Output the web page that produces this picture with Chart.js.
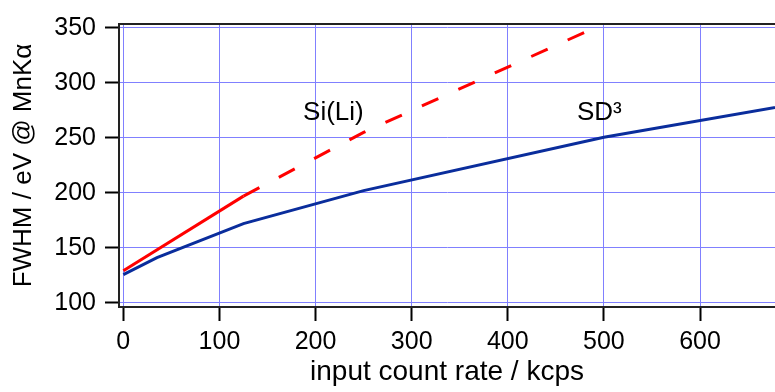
<!DOCTYPE html>
<html lang="en">
  <head>
    <meta charset="UTF-8" />
    <title>FWHM vs input count rate</title>
    <script src="https://cdn.jsdelivr.net/npm/chart.js@4"></script>
    <style>
      body {
        margin: 0;
        background: white;
      }
      .chart-container {
        width: 775px;
        height: 392px;
      }
    </style>
  </head>
  <body>
    <div class="chart-container">
      <canvas id="fwhmChart" width="775" height="392"></canvas>
    </div>

    <script>
      // SD3 detector
      const rateSD3 = [0, 35, 125, 250, 500, 700];
      const fwhmSD3 = [125.5, 141, 172, 202, 250.5, 281];

      // Si(Li) detector, dashed past the last measured point
      const rateSiLi = [0, 125, 250, 490];
      const fwhmSiLi = [129, 197, 255, 350];
      const siLiDashFrom = 125;

      const xTicks = [0, 100, 200, 300, 400, 500, 600];
      const yTicks = [100, 150, 200, 250, 300, 350];

      // curve labels, placed in data coordinates
      const labelTexts = ["Si(Li)", "SD³"];
      const labelX = [187, 472];
      const labelY = [266, 266];

      const FONT = "'Liberation Sans', Arial, sans-serif";

      const toPoints = (xs, ys) => xs.map((x, i) => ({ x: x, y: ys[i] }));

      // Draw curve labels on top of the data
      const curveLabels = {
        id: "curveLabels",
        afterDatasetsDraw(chart) {
          const { ctx, scales } = chart;
          ctx.save();
          ctx.fillStyle = "#000";
          ctx.font = "26px " + FONT;
          ctx.textAlign = "left";
          ctx.textBaseline = "alphabetic";
          labelTexts.forEach((t, i) => {
            ctx.fillText(t, scales.x.getPixelForValue(labelX[i]), scales.y.getPixelForValue(labelY[i]));
          });
          ctx.restore();
        },
      };

      const ctx = document.getElementById("fwhmChart").getContext("2d");
      new Chart(ctx, {
        type: "line",
        data: {
          datasets: [
            {
              label: "SD³",
              data: toPoints(rateSD3, fwhmSD3),
              borderColor: "#0a2d9c",
              borderWidth: 3,
              pointRadius: 0,
              tension: 0,
            },
            {
              label: "Si(Li)",
              data: toPoints(rateSiLi, fwhmSiLi),
              borderColor: "#ff0000",
              borderWidth: 3,
              pointRadius: 0,
              tension: 0,
              segment: {
                borderDash: (c) => (c.p0.parsed.x >= siLiDashFrom ? [18, 22] : undefined),
              },
            },
          ],
        },
        options: {
          responsive: false,
          animation: false,
          layout: {
            padding: { top: 20, right: 0, bottom: 0, left: 0 },
          },
          plugins: {
            legend: { display: false },
            tooltip: { enabled: false },
          },
          scales: {
            x: {
              type: "linear",
              position: "bottom",
              min: -4.5,
              max: 678,
              afterBuildTicks: (s) => {
                s.ticks = xTicks.map((v) => ({ value: v }));
              },
              afterFit: (s) => {
                s.height = 85;
              },
              grid: {
                color: "#8080ff",
                lineWidth: 1,
                tickColor: "#000",
                tickLength: 14,
                tickWidth: 2,
              },
              border: { display: true, color: "#222", width: 2 },
              ticks: {
                color: "#000",
                padding: 6,
                maxRotation: 0,
                font: { family: FONT, size: 25 },
              },
              title: {
                display: true,
                text: "input count rate / kcps",
                color: "#000",
                font: { family: FONT, size: 28 },
                padding: { top: 0, bottom: 3 },
              },
            },
            xTop: {
              type: "linear",
              position: "top",
              min: -4.5,
              max: 678,
              afterFit: (s) => {
                s.height = 0;
              },
              grid: { display: false },
              ticks: { display: false },
              border: { display: true, color: "#222", width: 2 },
            },
            y: {
              type: "linear",
              min: 96.1,
              max: 353.6,
              afterBuildTicks: (s) => {
                s.ticks = yTicks.map((v) => ({ value: v }));
              },
              afterFit: (s) => {
                s.width = 119;
              },
              grid: {
                color: "#8080ff",
                lineWidth: 1,
                tickColor: "#000",
                tickLength: 14,
                tickWidth: 2,
              },
              border: { display: true, color: "#222", width: 2 },
              ticks: {
                color: "#000",
                padding: 9,
                font: { family: FONT, size: 25 },
              },
              title: {
                display: true,
                text: "FWHM / eV @ MnKα",
                color: "#000",
                font: { family: FONT, size: 26 },
                padding: { top: 8, bottom: 0 },
              },
            },
          },
        },
        plugins: [curveLabels],
      });
    </script>
  </body>
</html>
